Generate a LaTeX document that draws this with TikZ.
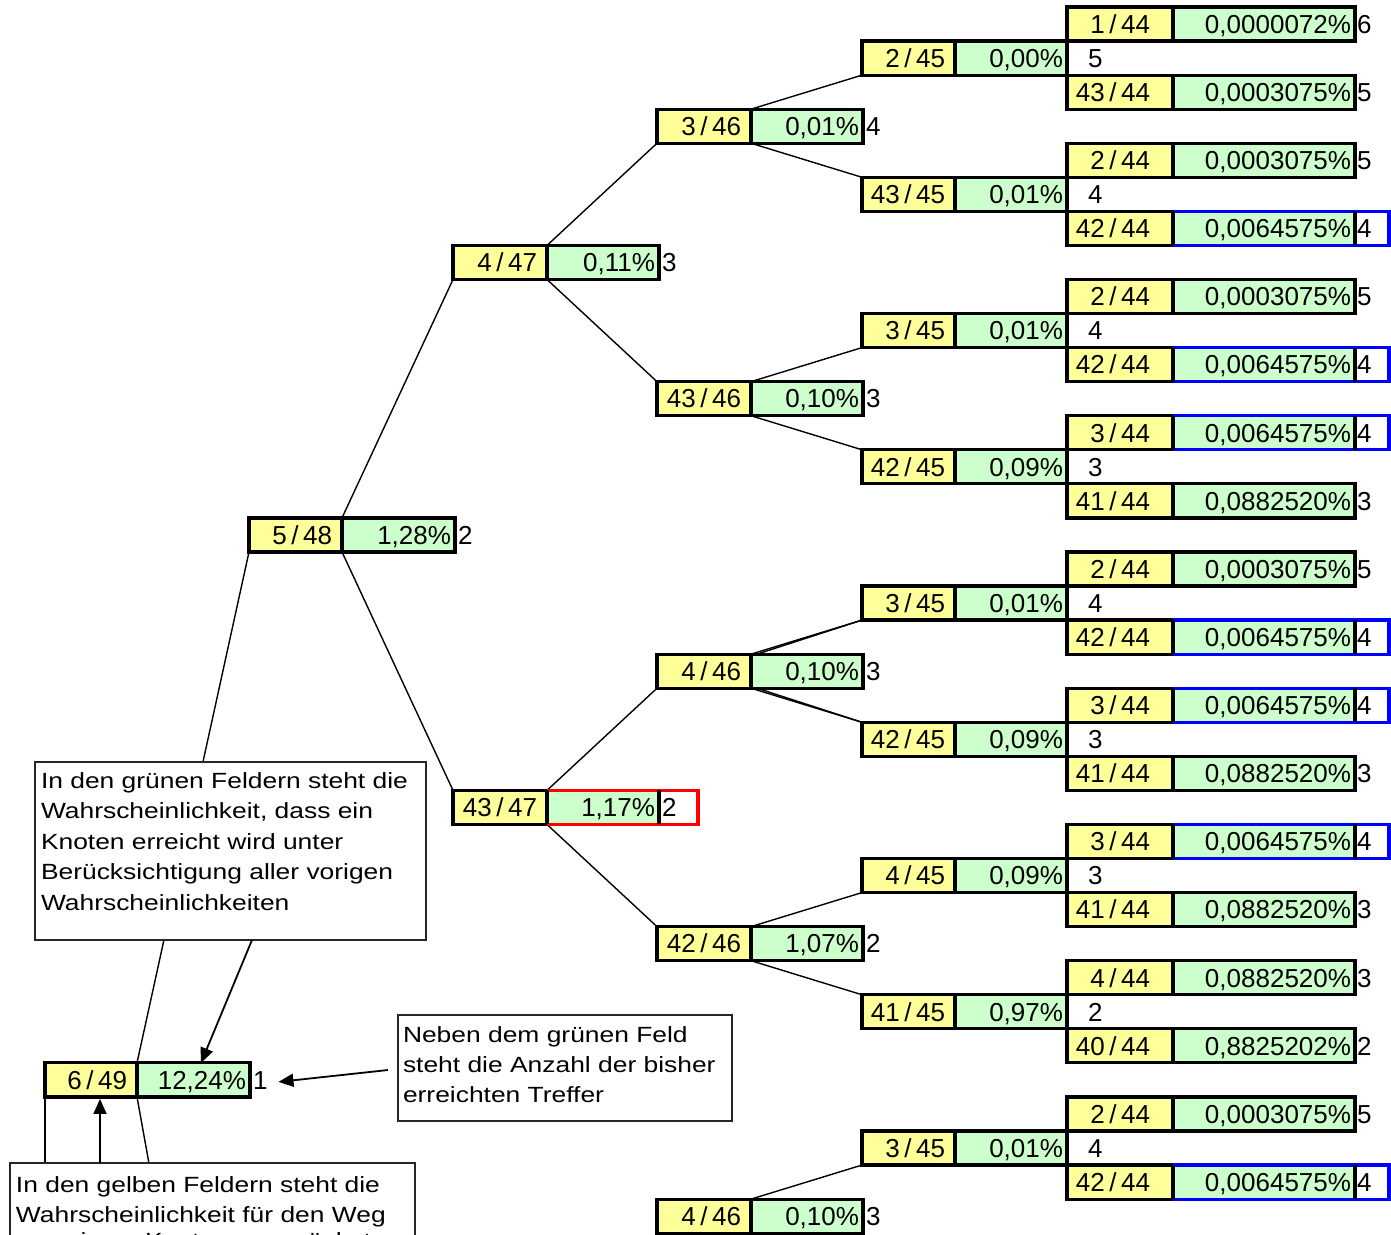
\documentclass[tikz,border=0pt]{standalone}
\usepackage{fontspec}
\setmainfont{Liberation Sans}
\newfontfamily\notefont[FakeStretch=1.2]{Liberation Sans}
\usetikzlibrary{arrows.meta}
\definecolor{cyel}{HTML}{FFFF99}
\definecolor{cgrn}{HTML}{CCFFCC}
\pgfdeclarelayer{bg}
\pgfsetlayers{bg,main}
\tikzset{
  ybox/.style={draw=black, fill=cyel, line width=3.2pt, minimum height=34.06pt, inner sep=0pt, outer sep=0pt},
  gbox/.style={draw=black, fill=cgrn, line width=3.2pt, minimum height=34.06pt, inner sep=0pt, outer sep=0pt},
  celltxt/.style={inner sep=0pt, outer sep=0pt, text height=18.6pt, text depth=0pt, font=\fontsize{26}{30}\selectfont},
  conn/.style={line width=1.4pt, black},
  notebox/.style={draw=black!85, line width=1.4pt, fill=white, inner sep=0pt, outer sep=0pt, anchor=north west},
  notetxt/.style={anchor=base west, inner sep=0pt, outer sep=0pt, font=\notefont\fontsize{22}{30}\selectfont},
  arr/.style={line width=1.8pt, -{Triangle[length=15pt,width=13pt]}}
}
\newcommand\frc[2]{#1\hspace{4.5pt}/\hspace{4.5pt}#2}
\newcommand\mycell[9]{%
  \pgfmathsetmacro\mcy{24.03+34.06*#5}%
  \pgfmathsetmacro\mwa{#3-#2}%
  \pgfmathsetmacro\mwb{#4-#3}%
  \pgfmathsetmacro\myp{(#3-#2>100)?23:10}%
  \node[ybox, minimum width=\mwa pt] (#1y) at ({(#2+#3)/2},\mcy) {};%
  \node[gbox, minimum width=\mwb pt] (#1g) at ({(#3+#4)/2},\mcy) {};%
  \node[celltxt, anchor=east] (#1a) at (#3-\myp,\mcy) {#6};%
  \node[celltxt, anchor=east] (#1b) at (#4-4,\mcy) {#7};%
  \node[celltxt, anchor=west] (#1c) at (#9,\mcy) {#8};%
}
\newcommand\Lone[5]{\mycell{#1}{45}{137}{250}{#2}{#3}{#4}{#5}{253}}
\newcommand\Ltwo[5]{\mycell{#1}{249}{342}{455}{#2}{#3}{#4}{#5}{458}}
\newcommand\Lthree[5]{\mycell{#1}{453}{547}{659}{#2}{#3}{#4}{#5}{662}}
\newcommand\Lfour[5]{\mycell{#1}{657}{751}{863}{#2}{#3}{#4}{#5}{866}}
\newcommand\Lfive[5]{\mycell{#1}{862}{955}{1067}{#2}{#3}{#4}{#5}{1088}}
\newcommand\Lsix[5]{\mycell{#1}{1067}{1173}{1355}{#2}{#3}{#4}{#5}{1357}}
\newcommand\hlbox[3]{%
  \draw[line width=3.2pt, draw=#2] (#1g.north west) -- ([xshift=#3pt]#1g.north east) -- ([xshift=#3pt]#1g.south east) -- (#1g.south west);
  \draw[line width=3.2pt, line cap=square] (#1g.north west) -- (#1g.south west) (#1g.north east) -- (#1g.south east);
}
\begin{document}
\begin{tikzpicture}[x=1pt,y=-1pt]
\useasboundingbox (0,0) rectangle (1391,1234);
% cells
\Lsix{c0}{0}{\frc{1}{44}}{0,0000072\%}{6}
\Lfive{c1}{1}{\frc{2}{45}}{0,00\%}{5}
\Lsix{c2}{2}{\frc{43}{44}}{0,0003075\%}{5}
\Lfour{c3}{3}{\frc{3}{46}}{0,01\%}{4}
\Lsix{c4}{4}{\frc{2}{44}}{0,0003075\%}{5}
\Lfive{c5}{5}{\frc{43}{45}}{0,01\%}{4}
\Lsix{c6}{6}{\frc{42}{44}}{0,0064575\%}{4}
\Lthree{c7}{7}{\frc{4}{47}}{0,11\%}{3}
\Lsix{c8}{8}{\frc{2}{44}}{0,0003075\%}{5}
\Lfive{c9}{9}{\frc{3}{45}}{0,01\%}{4}
\Lsix{c10}{10}{\frc{42}{44}}{0,0064575\%}{4}
\Lfour{c11}{11}{\frc{43}{46}}{0,10\%}{3}
\Lsix{c12}{12}{\frc{3}{44}}{0,0064575\%}{4}
\Lfive{c13}{13}{\frc{42}{45}}{0,09\%}{3}
\Lsix{c14}{14}{\frc{41}{44}}{0,0882520\%}{3}
\Ltwo{c15}{15}{\frc{5}{48}}{1,28\%}{2}
\Lsix{c16}{16}{\frc{2}{44}}{0,0003075\%}{5}
\Lfive{c17}{17}{\frc{3}{45}}{0,01\%}{4}
\Lsix{c18}{18}{\frc{42}{44}}{0,0064575\%}{4}
\Lfour{c19}{19}{\frc{4}{46}}{0,10\%}{3}
\Lsix{c20}{20}{\frc{3}{44}}{0,0064575\%}{4}
\Lfive{c21}{21}{\frc{42}{45}}{0,09\%}{3}
\Lsix{c22}{22}{\frc{41}{44}}{0,0882520\%}{3}
\Lthree{c23}{23}{\frc{43}{47}}{1,17\%}{2}
\Lsix{c24}{24}{\frc{3}{44}}{0,0064575\%}{4}
\Lfive{c25}{25}{\frc{4}{45}}{0,09\%}{3}
\Lsix{c26}{26}{\frc{41}{44}}{0,0882520\%}{3}
\Lfour{c27}{27}{\frc{42}{46}}{1,07\%}{2}
\Lsix{c28}{28}{\frc{4}{44}}{0,0882520\%}{3}
\Lfive{c29}{29}{\frc{41}{45}}{0,97\%}{2}
\Lsix{c30}{30}{\frc{40}{44}}{0,8825202\%}{2}
\Lone{c31}{31}{\frc{6}{49}}{12,24\%}{1}
\Lsix{c32}{32}{\frc{2}{44}}{0,0003075\%}{5}
\Lfive{c33}{33}{\frc{3}{45}}{0,01\%}{4}
\Lsix{c34}{34}{\frc{42}{44}}{0,0064575\%}{4}
\Lfour{c35}{35}{\frc{4}{46}}{0,10\%}{3}
% highlights
\hlbox{c6}{blue}{34}
\hlbox{c10}{blue}{34}
\hlbox{c12}{blue}{34}
\hlbox{c18}{blue}{34}
\hlbox{c20}{blue}{34}
\hlbox{c24}{blue}{34}
\hlbox{c34}{blue}{34}
\hlbox{c23}{red}{39}
% free ends of connectors (hidden under the note)
\coordinate (low48) at (152,1180);
\coordinate (low45) at (45,1180);
\begin{pgfonlayer}{bg}
  \fill[white] (0,0) rectangle (1391,1234);
  \draw[conn] (c31y.north east) -- (c15y.south west);
  \draw[conn] (c31y.south east) -- (low48);
  \draw[conn] (c31y.south west) -- (low45);
  \draw[conn] (c15y.north east) -- (c7y.south west);
  \draw[conn] (c15y.south east) -- (c23y.north west);
  \draw[conn] (c7y.north east) -- (c3y.south west);
  \draw[conn] (c7y.south east) -- (c11y.north west);
  \draw[conn] (c23y.north east) -- (c19y.south west);
  \draw[conn] (c23y.south east) -- (c27y.north west);
  \draw[conn] (c3y.north east) -- (c1y.south west);
  \draw[conn] (c3y.south east) -- (c5y.north west);
  \draw[conn] (c11y.north east) -- (c9y.south west);
  \draw[conn] (c11y.south east) -- (c13y.north west);
  \draw[conn] (c19y.north east) -- (c17y.south west);
  \draw[conn] (c19y.south east) -- (c21y.north west);
  \draw[conn] ([xshift=6pt]c19y.north east) -- (c17y.south west);
  \draw[conn] ([xshift=6pt]c19y.south east) -- (c21y.north west);
  \draw[conn] (c27y.north east) -- (c25y.south west);
  \draw[conn] (c27y.south east) -- (c29y.north west);
  \draw[conn] (c35y.north east) -- (c33y.south west);
\end{pgfonlayer}
% notes
\node[notebox, minimum width=391pt, minimum height=178pt] (n1) at (35,762) {};
\node[notetxt] (n1a) at (41,788) {In den grünen Feldern steht die};
\node[notetxt] (n1b) at (41,818.5) {Wahrscheinlichkeit, dass ein};
\node[notetxt] (n1c) at (41,849) {Knoten erreicht wird unter};
\node[notetxt] (n1d) at (41,879.5) {Berücksichtigung aller vorigen};
\node[notetxt] (n1e) at (41,910) {Wahrscheinlichkeiten};
\node[notebox, minimum width=334pt, minimum height=106pt] (n2) at (398,1015) {};
\node[notetxt] (n2a) at (403,1042) {Neben dem grünen Feld};
\node[notetxt] (n2b) at (403,1072) {steht die Anzahl der bisher};
\node[notetxt] (n2c) at (403,1102) {erreichten Treffer};
\node[notebox, minimum width=405pt, minimum height=150pt] (n3) at (10,1163) {};
\node[notetxt] (n3a) at (16,1192) {In den gelben Feldern steht die};
\node[notetxt] (n3b) at (16,1222) {Wahrscheinlichkeit für den Weg};
\node[notetxt] (n3c) at (16,1248) {von einem Knoten zum nächsten};
% arrows
\coordinate (a2) at (388,1070);
\draw[arr] ([xshift=217pt]n1.south west) -- ([xshift=64pt]c31g.north west);
\draw[arr] (a2) -- ([xshift=11pt,yshift=-2pt]c31c.east);
\draw[arr] ([xshift=90pt]n3.north west) -- ([xshift=55pt,yshift=-2pt]c31y.south west);
\end{tikzpicture}
\end{document}
